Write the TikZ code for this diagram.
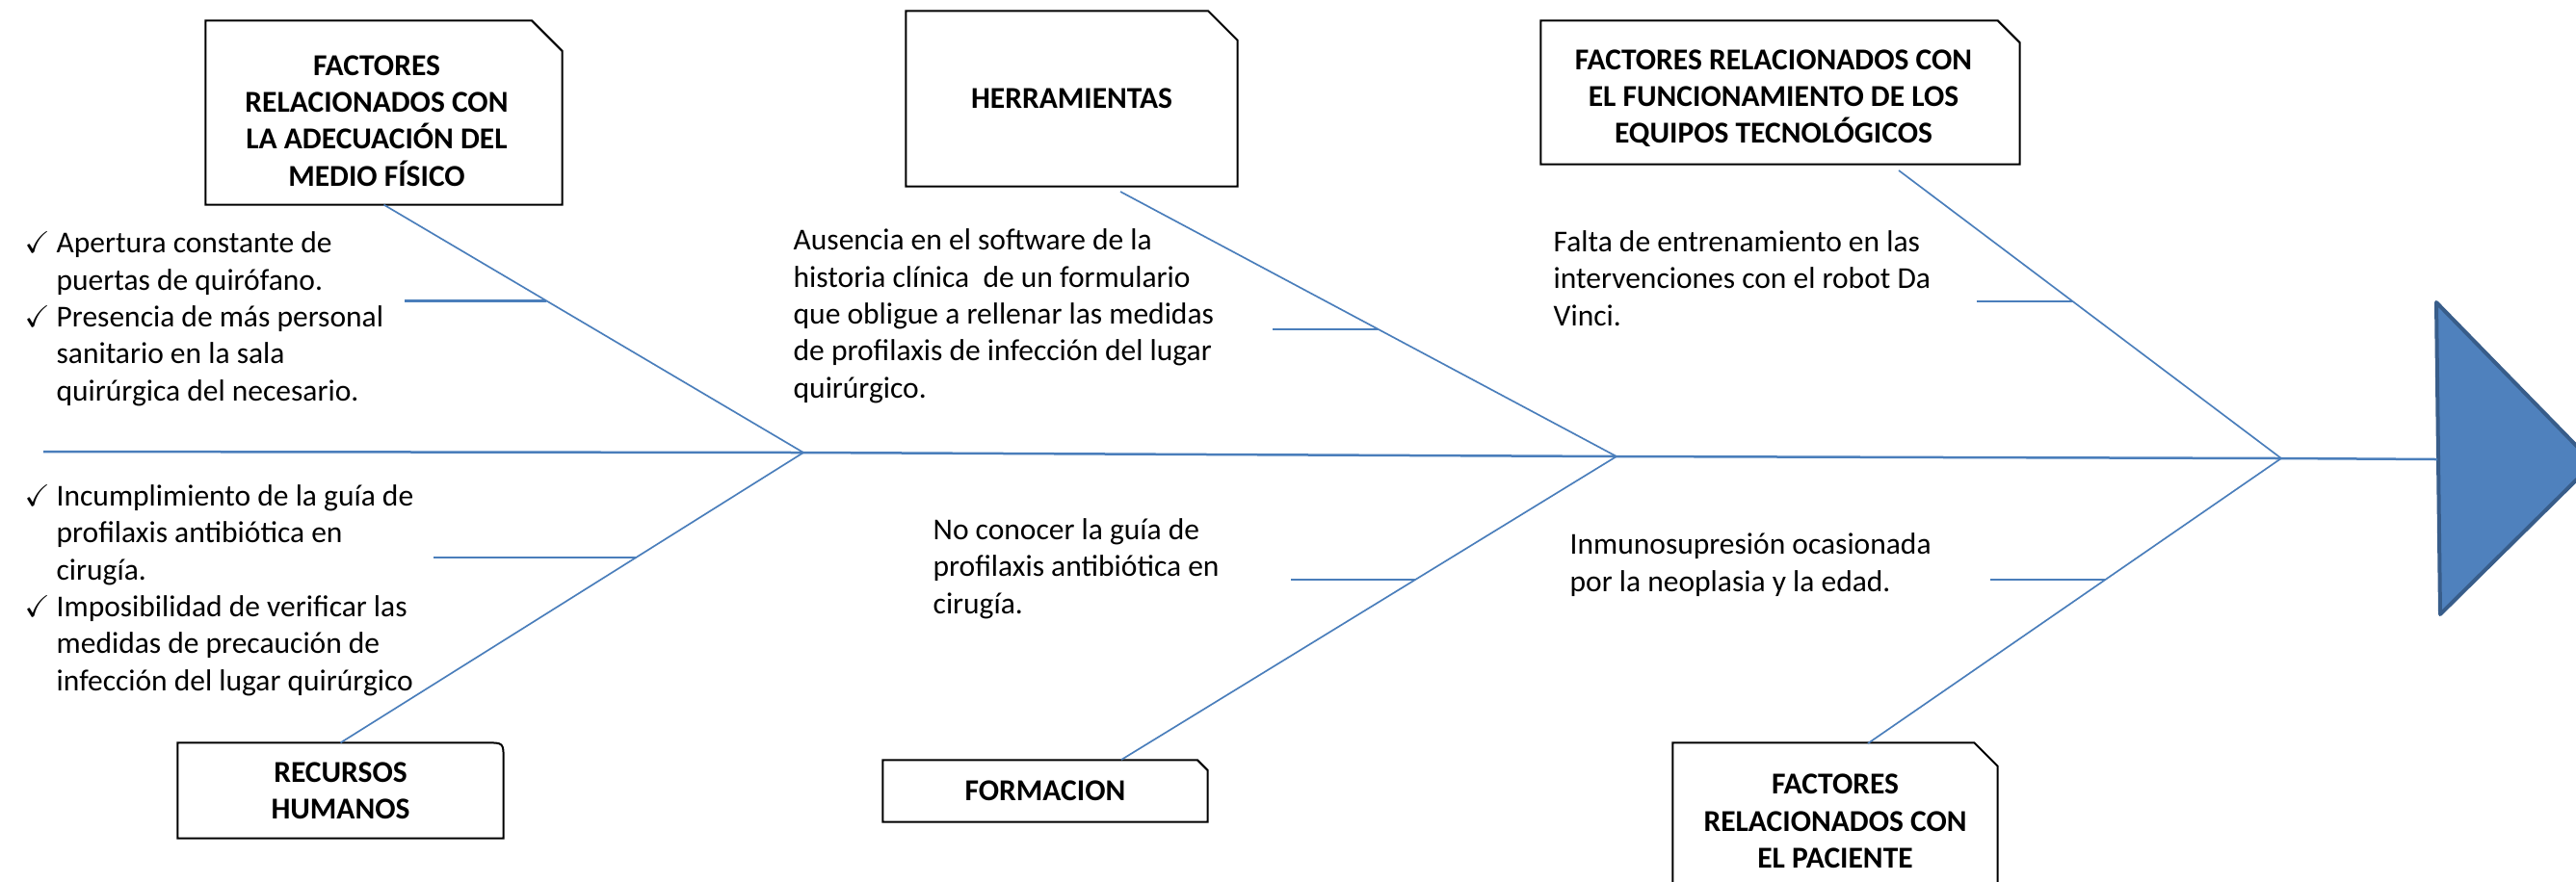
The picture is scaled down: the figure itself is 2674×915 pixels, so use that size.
\documentclass[tikz,border=0pt]{standalone}
\usepackage{fontspec}
\setmainfont{Carlito}
\usepackage{amssymb}
\usepackage{tikz}
\usetikzlibrary{positioning,calc}

\definecolor{bonecol}{HTML}{4A7EBB}
\definecolor{headfill}{HTML}{4F81BD}
\definecolor{headline}{HTML}{385D8A}

\newcommand{\chk}{\makebox[9.9pt][l]{$\checkmark$}}
\newcommand{\chkind}{\hspace*{9.9pt}}
% box outline with the top right corner cut off
\newcommand{\snipframe}[2]{\draw[boxline] (#1.south west) -- (#1.north west) -- ([xshift=-#2]#1.north east) -- ([yshift=-#2]#1.north east) -- (#1.south east) -- cycle;}

\begin{document}
\begin{tikzpicture}[x=0.3pt,y=-0.3pt,
    spine/.style={draw=bonecol,line width=0.75pt},
    bone/.style={draw=bonecol,line width=0.5pt},
    tick/.style={draw=bonecol,line width=0.75pt},
    boxline/.style={draw=black,line width=0.6pt},
    catbox/.style={inner sep=0pt,align=center,font=\fontsize{9.45}{11.5}\selectfont\bfseries},
    note/.style={inner sep=0pt,align=left,anchor=base west,font=\fontsize{9.45}{11.5}\selectfont}]
  \useasboundingbox (0,0) rectangle (2674,915);

  % head and spine
  \draw[fill=headfill,draw=headline,line width=1.2pt,line join=round]
    (2529,314) -- (2692,481) -- (2533,638) -- cycle;
  \coordinate (tail) at (45,469);
  \coordinate (j1) at (834,470);
  \coordinate (j2) at (1678,474);
  \coordinate (j3) at (2368,476);
  \coordinate (head) at (2530,477);
  \draw[spine] (tail) -- (j1) -- (j2) -- (j3) -- (head);

  % categories
  \node[catbox,minimum width=110.7pt,minimum height=57pt] (fisico) at (398.5,117) {};
  \node[catbox] (fisicoLbl) at (391,125.5)
    {FACTORES\\RELACIONADOS CON\\LA ADECUACIÓN DEL\\MEDIO FÍSICO};
  \snipframe{fisico}{9.5pt}
  \node[catbox,minimum width=102.9pt,minimum height=54.3pt] (herr) at (1112.5,102.5)
    {HERRAMIENTAS};
  \snipframe{herr}{9.2pt}
  \node[catbox,minimum width=148.8pt,minimum height=44.4pt] (equipos) at (1848,96) {};
  \node[catbox] (equiposLbl) at (1841,102)
    {FACTORES RELACIONADOS CON\\EL FUNCIONAMIENTO DE LOS\\EQUIPOS TECNOLÓGICOS};
  \snipframe{equipos}{6.9pt}
  \node[catbox,minimum width=101.1pt,minimum height=29.4pt] (rrhh) at (353.5,821)
    {RECURSOS\\HUMANOS};
  \draw[boxline] (rrhh.south west) -- (rrhh.north west) -- ([xshift=-5.4pt]rrhh.north east)
    .. controls (rrhh.north east) .. ([yshift=-5.4pt]rrhh.north east) -- (rrhh.south east) -- cycle;
  \node[catbox,minimum width=100.8pt,minimum height=18.9pt] (formacion) at (1085,821.5)
    {FORMACION};
  \snipframe{formacion}{3.2pt}
  \node[catbox,minimum width=100.8pt,minimum height=48.6pt] (paciente) at (1905,853)
    {FACTORES\\RELACIONADOS CON\\EL PACIENTE};
  \snipframe{paciente}{7.3pt}

  % bones
  \coordinate (u1) at (fisico.south);
  \coordinate (u2) at (1163,199);
  \coordinate (u3) at (1971,177);
  \coordinate (l1) at (rrhh.north);
  \coordinate (l2) at (1164,789);
  \coordinate (l3) at (1939,772);
  \draw[bone] (u1) -- (j1);
  \draw[bone] (u2) -- (j2);
  \draw[bone] (u3) -- (j3);
  \draw[bone] (l1) -- (j1);
  \draw[bone] (l2) -- (j2);
  \draw[bone] (l3) -- (j3);
  \draw[tick] ($(u1)!0.388!(j1)$) -- ++(-147,0);
  \draw[tick] ($(u2)!0.52!(j2)$) -- ++(-110,0);
  \draw[tick] ($(u3)!0.455!(j3)$) -- ++(-100,0);
  \draw[tick] ($(l1)!0.639!(j1)$) -- ++(-211,0);
  \draw[tick] ($(l2)!0.594!(j2)$) -- ++(-129,0);
  \draw[tick] ($(l3)!0.574!(j3)$) -- ++(-119,0);

  % causes (placed at the baseline of their last line)
  \node[note] (fisicoTxt) at (25,416) {\chk Apertura constante de\\\chkind puertas de quirófano.\\\chk Presencia de más personal\\\chkind sanitario en la sala\\\chkind quirúrgica del necesario.};
  \node[note] (rrhhTxt) at (25,717) {\chk Incumplimiento de la guía de\\\chkind profilaxis antibiótica en\\\chkind cirugía.\\\chk Imposibilidad de verificar las\\\chkind medidas de precaución de\\\chkind infección del lugar quirúrgico};
  \node[note] (herrTxt) at (823,413) {Ausencia en el software de la\\historia clínica\ \ de un formulario\\que obligue a rellenar las medidas\\de profilaxis de infección del lugar\\quirúrgico.};
  \node[note] (formTxt) at (968,637) {No conocer la guía de\\profilaxis antibiótica en\\cirugía.};
  \node[note] (equiposTxt) at (1612,338) {Falta de entrenamiento en las\\intervenciones con el robot Da\\Vinci.};
  \node[note] (pacienteTxt) at (1629,614) {Inmunosupresión ocasionada\\por la neoplasia y la edad.};
\end{tikzpicture}
\end{document}
